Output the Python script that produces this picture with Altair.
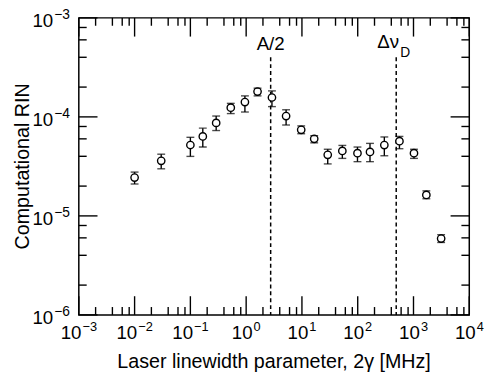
import altair as alt
import pandas as pd

# ---- data ----
x_vals = [0.01, 0.03, 0.1, 0.167, 0.29, 0.53, 0.95, 1.6, 2.9, 5.2, 9.7,
          16.6, 29, 53, 99, 166, 300, 560, 1020, 1700, 3130]
y_vals = [2.44e-5, 3.6e-5, 5.2e-5, 6.35e-5, 8.7e-5, 1.24e-4, 1.41e-4, 1.80e-4,
          1.57e-4, 1.02e-4, 7.4e-5, 6.0e-5, 4.14e-5, 4.53e-5, 4.3e-5, 4.43e-5,
          5.19e-5, 5.68e-5, 4.3e-5, 1.63e-5, 5.9e-6]
y_hi = [2.77e-5, 4.20e-5, 6.22e-5, 7.69e-5, 1.02e-4, 1.37e-4, 1.63e-4, 1.95e-4,
        1.83e-4, 1.18e-4, 8.11e-5, 6.46e-5, 4.71e-5, 5.15e-5, 4.96e-5, 5.40e-5,
        6.27e-5, 6.35e-5, 4.71e-5, 1.79e-5, 6.46e-6]
y_lo = [2.10e-5, 2.99e-5, 3.99e-5, 4.96e-5, 7.28e-5, 1.08e-4, 1.12e-4, 1.63e-4,
        1.27e-4, 8.28e-5, 6.76e-5, 5.47e-5, 3.35e-5, 3.81e-5, 3.53e-5, 3.53e-5,
        4.05e-5, 4.77e-5, 3.81e-5, 1.49e-5, 5.39e-6]

x_major = [1e-3, 1e-2, 1e-1, 1, 10, 100, 1e3, 1e4]
x_exp = ["\u22123", "\u22122", "\u22121", "0", "1", "2", "3", "4"]
y_major = [1e-6, 1e-5, 1e-4, 1e-3]
y_exp = ["\u22126", "\u22125", "\u22124", "\u22123"]
minor_mult = [2, 4, 6, 8]

vline_x = [2.75, 490]
vline_top = [4.0e-4, 4.0e-4]
label_y = 5.45e-4

x_domain = [1e-3, 1e4]
y_domain = [1e-6, 1e-3]

W, H = 397, 302
FONT = "Liberation Sans"
MAJ, MIN = 19, 8

xs = alt.Scale(type="log", domain=x_domain, nice=False)
ys = alt.Scale(type="log", domain=y_domain, nice=False)

x_minor = [m * d for d in x_major[:-1] for m in minor_mult]
y_minor = [m * d for d in y_major[:-1] for m in minor_mult]


def along(lo, hi, frac):
    # value lying a pixel fraction `frac` from `lo` on a log axis
    return lo * (hi / lo) ** frac


# one segment table: error bars + inward frame ticks (x, x2, y, y2)
rows = []
for xv, lo, hi in zip(x_vals, y_lo, y_hi):
    rows.append((xv, xv, lo, hi))
for vals, L in [(x_major, MAJ), (x_minor, MIN)]:
    yb = along(y_domain[0], y_domain[1], L / H)
    yt = along(y_domain[1], y_domain[0], L / H)
    for v in vals:
        rows.append((v, v, y_domain[0], yb))
        rows.append((v, v, y_domain[1], yt))
for vals, L in [(y_major, MAJ), (y_minor, MIN)]:
    xl_ = along(x_domain[0], x_domain[1], L / W)
    xr_ = along(x_domain[1], x_domain[0], L / W)
    for v in vals:
        rows.append((x_domain[0], xl_, v, v))
        rows.append((x_domain[1], xr_, v, v))
seg = pd.DataFrame(rows, columns=["x", "x2", "y", "y2"])

layers = []

frame = alt.Chart(pd.DataFrame({"f": [0]})).mark_rect(
    fillOpacity=0, stroke="black", strokeWidth=1.5, color="black"
).encode(x=alt.value(0), x2=alt.value(W), y=alt.value(0), y2=alt.value(H))
layers.append(frame)

segments = alt.Chart(seg).mark_rule(color="black", strokeWidth=1.4).encode(
    x=alt.X("x:Q", scale=xs, axis=None),
    x2="x2:Q",
    y=alt.Y("y:Q", scale=ys, axis=None),
    y2="y2:Q",
)
layers.append(segments)

# x tick labels
xl = pd.DataFrame({"v": x_major, "e": x_exp})
xl["neg"] = xl["e"].str.startswith("\u2212")
for neg, dxb, dxe in [(True, 2.7, 3.7), (False, 6.5, 7.5)]:
    sub = xl[xl["neg"] == neg]
    base = alt.Chart(sub).mark_text(
        text="10", font=FONT, fontSize=19, align="right", baseline="middle", dx=dxb
    ).encode(x=alt.X("v:Q", scale=xs, axis=None), y=alt.value(H + 19))
    ex = alt.Chart(sub).mark_text(
        font=FONT, fontSize=13, align="left", baseline="middle", dx=dxe
    ).encode(x=alt.X("v:Q", scale=xs, axis=None), y=alt.value(H + 12), text="e:N")
    layers += [base, ex]

# y tick labels
yl = pd.DataFrame({"v": y_major, "e": y_exp})
ybase = alt.Chart(yl).mark_text(
    text="10", font=FONT, fontSize=19, align="right", baseline="middle", dy=3.5
).encode(y=alt.Y("v:Q", scale=ys, axis=None), x=alt.value(-26))
yex = alt.Chart(yl).mark_text(
    font=FONT, fontSize=14, align="left", baseline="middle", dy=-2.5
).encode(y=alt.Y("v:Q", scale=ys, axis=None), x=alt.value(-25), text="e:N")
layers += [ybase, yex]

# titles
xtitle = alt.Chart(pd.DataFrame({"t": ["Laser linewidth parameter, 2\u03b3 [MHz]"]})).mark_text(
    font=FONT, fontSize=20, align="center", baseline="middle"
).encode(x=alt.value(W / 2), y=alt.value(H + 48), text="t:N")
ytitle = alt.Chart(pd.DataFrame({"t": ["Computational RIN"]})).mark_text(
    font=FONT, fontSize=20, align="center", baseline="middle", angle=270
).encode(x=alt.value(-57), y=alt.value(H / 2), text="t:N")
layers += [xtitle, ytitle]

# dashed vertical lines
vl = pd.DataFrame({"x": vline_x, "top": vline_top, "bot": [y_domain[0]] * 2})
vlines = alt.Chart(vl).mark_rule(color="black", strokeWidth=1.5, strokeDash=[4, 3]).encode(
    x=alt.X("x:Q", scale=xs, axis=None),
    y=alt.Y("top:Q", scale=ys, axis=None),
    y2="bot:Q",
)
layers.append(vlines)

lab = pd.DataFrame({"x": vline_x, "y": [label_y, label_y]})
a2 = alt.Chart(lab.iloc[[0]]).mark_text(
    text="A/2", font=FONT, fontSize=19, align="center", baseline="middle"
).encode(x=alt.X("x:Q", scale=xs, axis=None), y=alt.Y("y:Q", scale=ys, axis=None))
dnu = alt.Chart(lab.iloc[[1]]).mark_text(
    text="\u0394\u03bd", font=FONT, fontSize=19, align="right", baseline="middle", dx=3, dy=-2
).encode(x=alt.X("x:Q", scale=xs, axis=None), y=alt.Y("y:Q", scale=ys, axis=None))
dsub = alt.Chart(lab.iloc[[1]]).mark_text(
    text="D", font=FONT, fontSize=14, align="left", baseline="middle", dx=4, dy=9
).encode(x=alt.X("x:Q", scale=xs, axis=None), y=alt.Y("y:Q", scale=ys, axis=None))
layers += [a2, dnu, dsub]

# data points with error-bar caps
df = pd.DataFrame({"x": x_vals, "y": y_vals, "lo": y_lo, "hi": y_hi})
cap_lo = alt.Chart(df).mark_tick(orient="horizontal", size=8, thickness=1.4, color="black").encode(
    x=alt.X("x:Q", scale=xs, axis=None), y=alt.Y("lo:Q", scale=ys, axis=None)
)
cap_hi = alt.Chart(df).mark_tick(orient="horizontal", size=8, thickness=1.4, color="black").encode(
    x=alt.X("x:Q", scale=xs, axis=None), y=alt.Y("hi:Q", scale=ys, axis=None)
)
pts = alt.Chart(df).mark_point(
    shape="circle", size=56, fill="white", stroke="black", strokeWidth=1.4,
    opacity=1, fillOpacity=1, filled=True
).encode(x=alt.X("x:Q", scale=xs, axis=None), y=alt.Y("y:Q", scale=ys, axis=None))
layers += [pts, cap_lo, cap_hi]

chart = alt.layer(*layers).properties(
    width=W, height=H,
    autosize=alt.AutoSizeParams(type="none"),
    padding={"left": 72, "top": 7, "right": 17, "bottom": 55},
    background="white",
).configure_view(stroke=None)

chart.save("out.html", embed_options={"renderer": "svg", "actions": False})
